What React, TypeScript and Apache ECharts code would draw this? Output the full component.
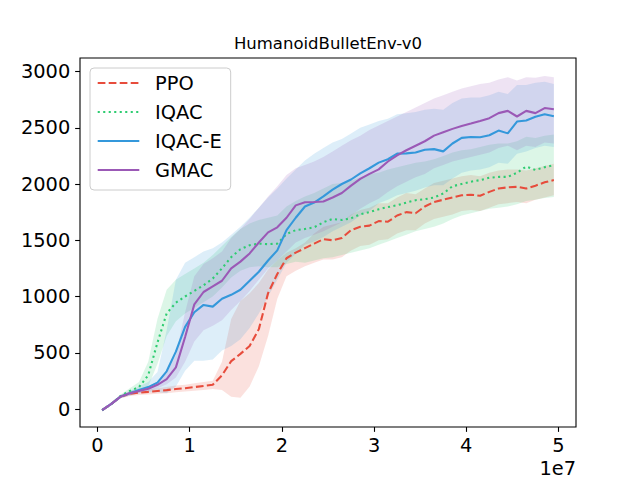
import React, { useEffect, useRef } from "react";
import * as echarts from "echarts";

const FONT = "DejaVu Sans";

// environment steps, in millions
const steps = [
  0.5, 1.5, 2.5, 3.5, 4.5, 5.5, 6.5, 7.5, 8.5, 9.5,
  10.5, 11.5, 12.5, 13.5, 14.5, 15.5, 16.5, 17.5, 18.5, 19.5,
  20.5, 21.5, 22.5, 23.5, 24.5, 25.5, 26.5, 27.5, 28.5, 29.5,
  30.5, 31.5, 32.5, 33.5, 34.5, 35.5, 36.5, 37.5, 38.5, 39.5,
  40.5, 41.5, 42.5, 43.5, 44.5, 45.5, 46.5, 47.5, 48.5, 49.5,
];

const seriesNames = ["PPO", "IQAC", "IQAC-E", "GMAC"];
const lineColors = ["#e74c3c", "#2ecc71", "#3498db", "#9b59b6"];
const bandColors = [
  "rgba(231,76,60,0.17)",
  "rgba(46,204,113,0.17)",
  "rgba(52,152,219,0.17)",
  "rgba(155,89,182,0.17)",
];

const ppoMean = [
  -10, 45, 110, 135, 145, 152, 160, 168, 178, 185,
  195, 205, 215, 300, 425, 490, 560, 710, 1030, 1200,
  1340, 1390, 1430, 1470, 1510, 1500, 1520, 1590, 1620, 1630,
  1670, 1665, 1720, 1750, 1740, 1800, 1840, 1860, 1880, 1900,
  1905, 1895, 1930, 1960, 1970, 1975, 1960, 1985, 2015, 2035,
];
const ppoLow = [
  -22, 33, 95, 115, 125, 130, 135, 140, 148, 155,
  162, 170, 178, 170, 110, 100, 200, 380, 650, 980,
  1180, 1230, 1270, 1300, 1330, 1330, 1350, 1410, 1450, 1460,
  1500, 1510, 1560, 1590, 1590, 1650, 1690, 1710, 1730, 1760,
  1770, 1760, 1790, 1820, 1830, 1840, 1830, 1860, 1880, 1900,
];
const ppoHigh = [
  2, 57, 125, 155, 165, 174, 185, 196, 208, 215,
  228, 240, 252, 420, 800, 960, 1030, 1120, 1240, 1320,
  1390, 1430, 1480, 1560, 1620, 1640, 1660, 1730, 1770, 1790,
  1830, 1830, 1880, 1920, 1910, 1960, 2010, 2030, 2050, 2070,
  2080, 2070, 2100, 2120, 2130, 2130, 2120, 2140, 2160, 2180,
];

const iqacMean = [
  -10, 45, 115, 160, 195, 300, 590, 850, 945, 1000,
  1050, 1100, 1160, 1250, 1350, 1420, 1456, 1470, 1465, 1470,
  1555, 1590, 1600, 1615, 1660, 1690, 1680, 1695, 1730, 1750,
  1775, 1795, 1811, 1835, 1856, 1865, 1880, 1915, 1980, 2000,
  2020, 2035, 2055, 2063, 2063, 2100, 2155, 2125, 2150, 2167,
];
const iqacLow = [
  -22, 33, 100, 135, 160, 200, 400, 650, 780, 850,
  900, 950, 1000, 1080, 1170, 1230, 1260, 1270, 1260, 1260,
  1290, 1310, 1300, 1320, 1340, 1350, 1370, 1390, 1410, 1430,
  1460, 1490, 1520, 1550, 1580, 1600, 1620, 1650, 1690, 1720,
  1740, 1760, 1780, 1790, 1800, 1820, 1850, 1860, 1875, 1885,
];
const iqacHigh = [
  2, 57, 130, 185, 240, 420, 800, 1060, 1150, 1200,
  1250, 1300, 1370, 1450, 1530, 1600, 1650, 1680, 1700, 1720,
  1800, 1850, 1890, 1920, 1960, 2000, 2010, 2030, 2060, 2090,
  2100, 2130, 2150, 2170, 2190, 2200, 2220, 2250, 2280, 2300,
  2310, 2330, 2350, 2360, 2360, 2380, 2420, 2410, 2430, 2440,
];

const iqacEMean = [
  -10, 45, 110, 140, 170, 195, 235, 335, 510, 730,
  860, 925, 910, 980, 1015, 1060, 1140, 1220, 1320, 1410,
  1590, 1700, 1800, 1835, 1890, 1950, 2000, 2040, 2095, 2140,
  2190, 2220, 2270, 2272, 2280, 2305, 2310, 2290, 2360, 2410,
  2418, 2415, 2433, 2475, 2450, 2555, 2565, 2598, 2620, 2602,
];
const iqacELow = [
  -22, 33, 95, 120, 140, 150, 150, 140, 200, 340,
  430, 430, 440, 520, 560, 620, 720, 850, 1000, 1150,
  1300, 1380, 1460, 1490, 1530, 1580, 1620, 1660, 1720, 1760,
  1830, 1860, 1900, 1920, 1940, 1970, 1990, 1990, 2050, 2100,
  2120, 2130, 2150, 2190, 2180, 2270, 2290, 2320, 2340, 2330,
];
const iqacEHigh = [
  2, 57, 125, 160, 200, 240, 330, 700, 1150, 1300,
  1350, 1400, 1430, 1480, 1550, 1620, 1700, 1790, 1880, 1960,
  2050, 2130, 2210, 2270, 2320, 2370, 2400, 2450, 2500, 2530,
  2560, 2580, 2620, 2630, 2640, 2660, 2670, 2660, 2720, 2760,
  2770, 2770, 2790, 2820, 2800, 2880, 2880, 2900, 2910, 2890,
];

const gmacMean = [
  -10, 45, 110, 140, 160, 180, 215, 265, 370, 640,
  930, 1040, 1090, 1140, 1250, 1310, 1383, 1480, 1570, 1615,
  1700, 1810, 1838, 1840, 1845, 1880, 1920, 1985, 2045, 2090,
  2130, 2200, 2255, 2300, 2340, 2380, 2430, 2460, 2490, 2515,
  2537, 2560, 2585, 2630, 2650, 2600, 2650, 2630, 2675, 2664,
];
const gmacLow = [
  -22, 33, 95, 120, 140, 160, 185, 220, 280, 420,
  600, 700, 740, 790, 880, 960, 1050, 1150, 1250, 1320,
  1400, 1480, 1520, 1550, 1580, 1620, 1660, 1720, 1780, 1830,
  1870, 1930, 1980, 2020, 2060, 2090, 2140, 2170, 2200, 2220,
  2240, 2260, 2280, 2320, 2340, 2300, 2340, 2330, 2370, 2360,
];
const gmacHigh = [
  2, 57, 125, 160, 180, 200, 245, 320, 480, 860,
  1180, 1290, 1340, 1400, 1520, 1600, 1690, 1790, 1890, 1980,
  2080, 2140, 2170, 2200, 2240, 2290, 2340, 2390, 2430, 2480,
  2520, 2560, 2600, 2640, 2680, 2720, 2760, 2790, 2820, 2850,
  2870, 2890, 2900, 2930, 2950, 2920, 2950, 2945, 2960, 2950,
];

const means = [ppoMean, iqacMean, iqacEMean, gmacMean];
const lows = [ppoLow, iqacLow, iqacELow, gmacLow];
const highs = [ppoHigh, iqacHigh, iqacEHigh, gmacHigh];
const lineDashes: (number[] | "solid")[] = [[7.7, 3.3], [2.1, 3.4], "solid", "solid"];

const xTicks = [0, 1e7, 2e7, 3e7, 4e7, 5e7];
const yTicks = [0, 500, 1000, 1500, 2000, 2500, 3000];
const STEP_UNIT = 1e6;

export default function App() {
  const ref = useRef<HTMLDivElement>(null);

  useEffect(() => {
    if (!ref.current) return;
    const chart = echarts.init(ref.current, null, { renderer: "svg" });

    const bandSeries = seriesNames.map((name, k) => ({
      type: "custom",
      name: name + " band",
      silent: true,
      z: 1,
      data: [[0, 0]],
      renderItem: (_params: any, api: any) => {
        const top = steps.map((s, i) => api.coord([s * STEP_UNIT, highs[k][i]]));
        const bottom = steps
          .map((s, i) => api.coord([s * STEP_UNIT, lows[k][i]]))
          .reverse();
        return {
          type: "polygon",
          shape: { points: top.concat(bottom) },
          style: { fill: bandColors[k], stroke: "none" },
        };
      },
    }));

    const lineSeries = seriesNames.map((name, k) => ({
      type: "line",
      name,
      z: 3,
      symbol: "none",
      showSymbol: false,
      data: steps.map((s, i) => [s * STEP_UNIT, means[k][i]]),
      lineStyle: { color: lineColors[k], width: 2.08, type: lineDashes[k], cap: "butt" },
      itemStyle: { color: lineColors[k] },
    }));

    const axisCommon = {
      type: "value",
      splitLine: { show: false },
      axisLine: { show: false, onZero: false },
      axisTick: {
        show: true,
        inside: false,
        length: 4.86,
        lineStyle: { color: "#000", width: 1.1 },
      },
    };

    chart.setOption({
      animation: false,
      backgroundColor: "#ffffff",
      grid: {
        left: 80,
        right: 64,
        top: 58,
        bottom: 53,
        show: true,
        borderColor: "#000",
        borderWidth: 1.1,
        backgroundColor: "transparent",
      },
      xAxis: {
        ...axisCommon,
        min: -1.9e6,
        max: 51.9e6,
        axisTick: { ...axisCommon.axisTick, customValues: xTicks },
        axisLabel: {
          customValues: xTicks,
          margin: 8.5,
          color: "#000",
          fontSize: 19.4,
          fontFamily: FONT,
          formatter: (v: number) => String(Math.round(v / 1e7)),
        },
      },
      yAxis: {
        ...axisCommon,
        min: -160,
        max: 3120,
        axisTick: { ...axisCommon.axisTick, customValues: yTicks },
        axisLabel: {
          customValues: yTicks,
          margin: 9.7,
          color: "#000",
          fontSize: 19.4,
          fontFamily: FONT,
          formatter: (v: number) => String(v),
        },
      },
      legend: {
        data: seriesNames,
        orient: "vertical",
        left: 90,
        top: 68,
        padding: [5, 9, 10, 6.7],
        itemWidth: 41.6,
        itemHeight: 20,
        itemGap: 9,
        backgroundColor: "rgba(255,255,255,0.8)",
        borderColor: "#cccccc",
        borderWidth: 1,
        borderRadius: 4,
        selectedMode: false,
        itemStyle: { opacity: 0, borderWidth: 0 },
        textStyle: {
          fontSize: 19.4,
          color: "#000",
          fontFamily: FONT,
          lineHeight: 20,
          padding: [0, 0, 0, 10.7],
        },
      },
      graphic: [
        {
          type: "text",
          x: 328,
          y: 43,
          style: {
            text: "HumanoidBulletEnv-v0",
            fontSize: 16.5,
            fontFamily: FONT,
            fill: "#000",
            textAlign: "center",
            textVerticalAlign: "middle",
          },
        },
        {
          type: "text",
          x: 576,
          y: 468,
          style: {
            text: "1e7",
            fontSize: 19.4,
            fontFamily: FONT,
            fill: "#000",
            textAlign: "right",
            textVerticalAlign: "middle",
          },
        },
      ],
      series: [...bandSeries, ...lineSeries],
    });

    return () => chart.dispose();
  }, []);

  return (
    <div
      ref={ref}
      style={{ position: "fixed", left: 0, top: 0, width: 640, height: 480 }}
    />
  );
}
